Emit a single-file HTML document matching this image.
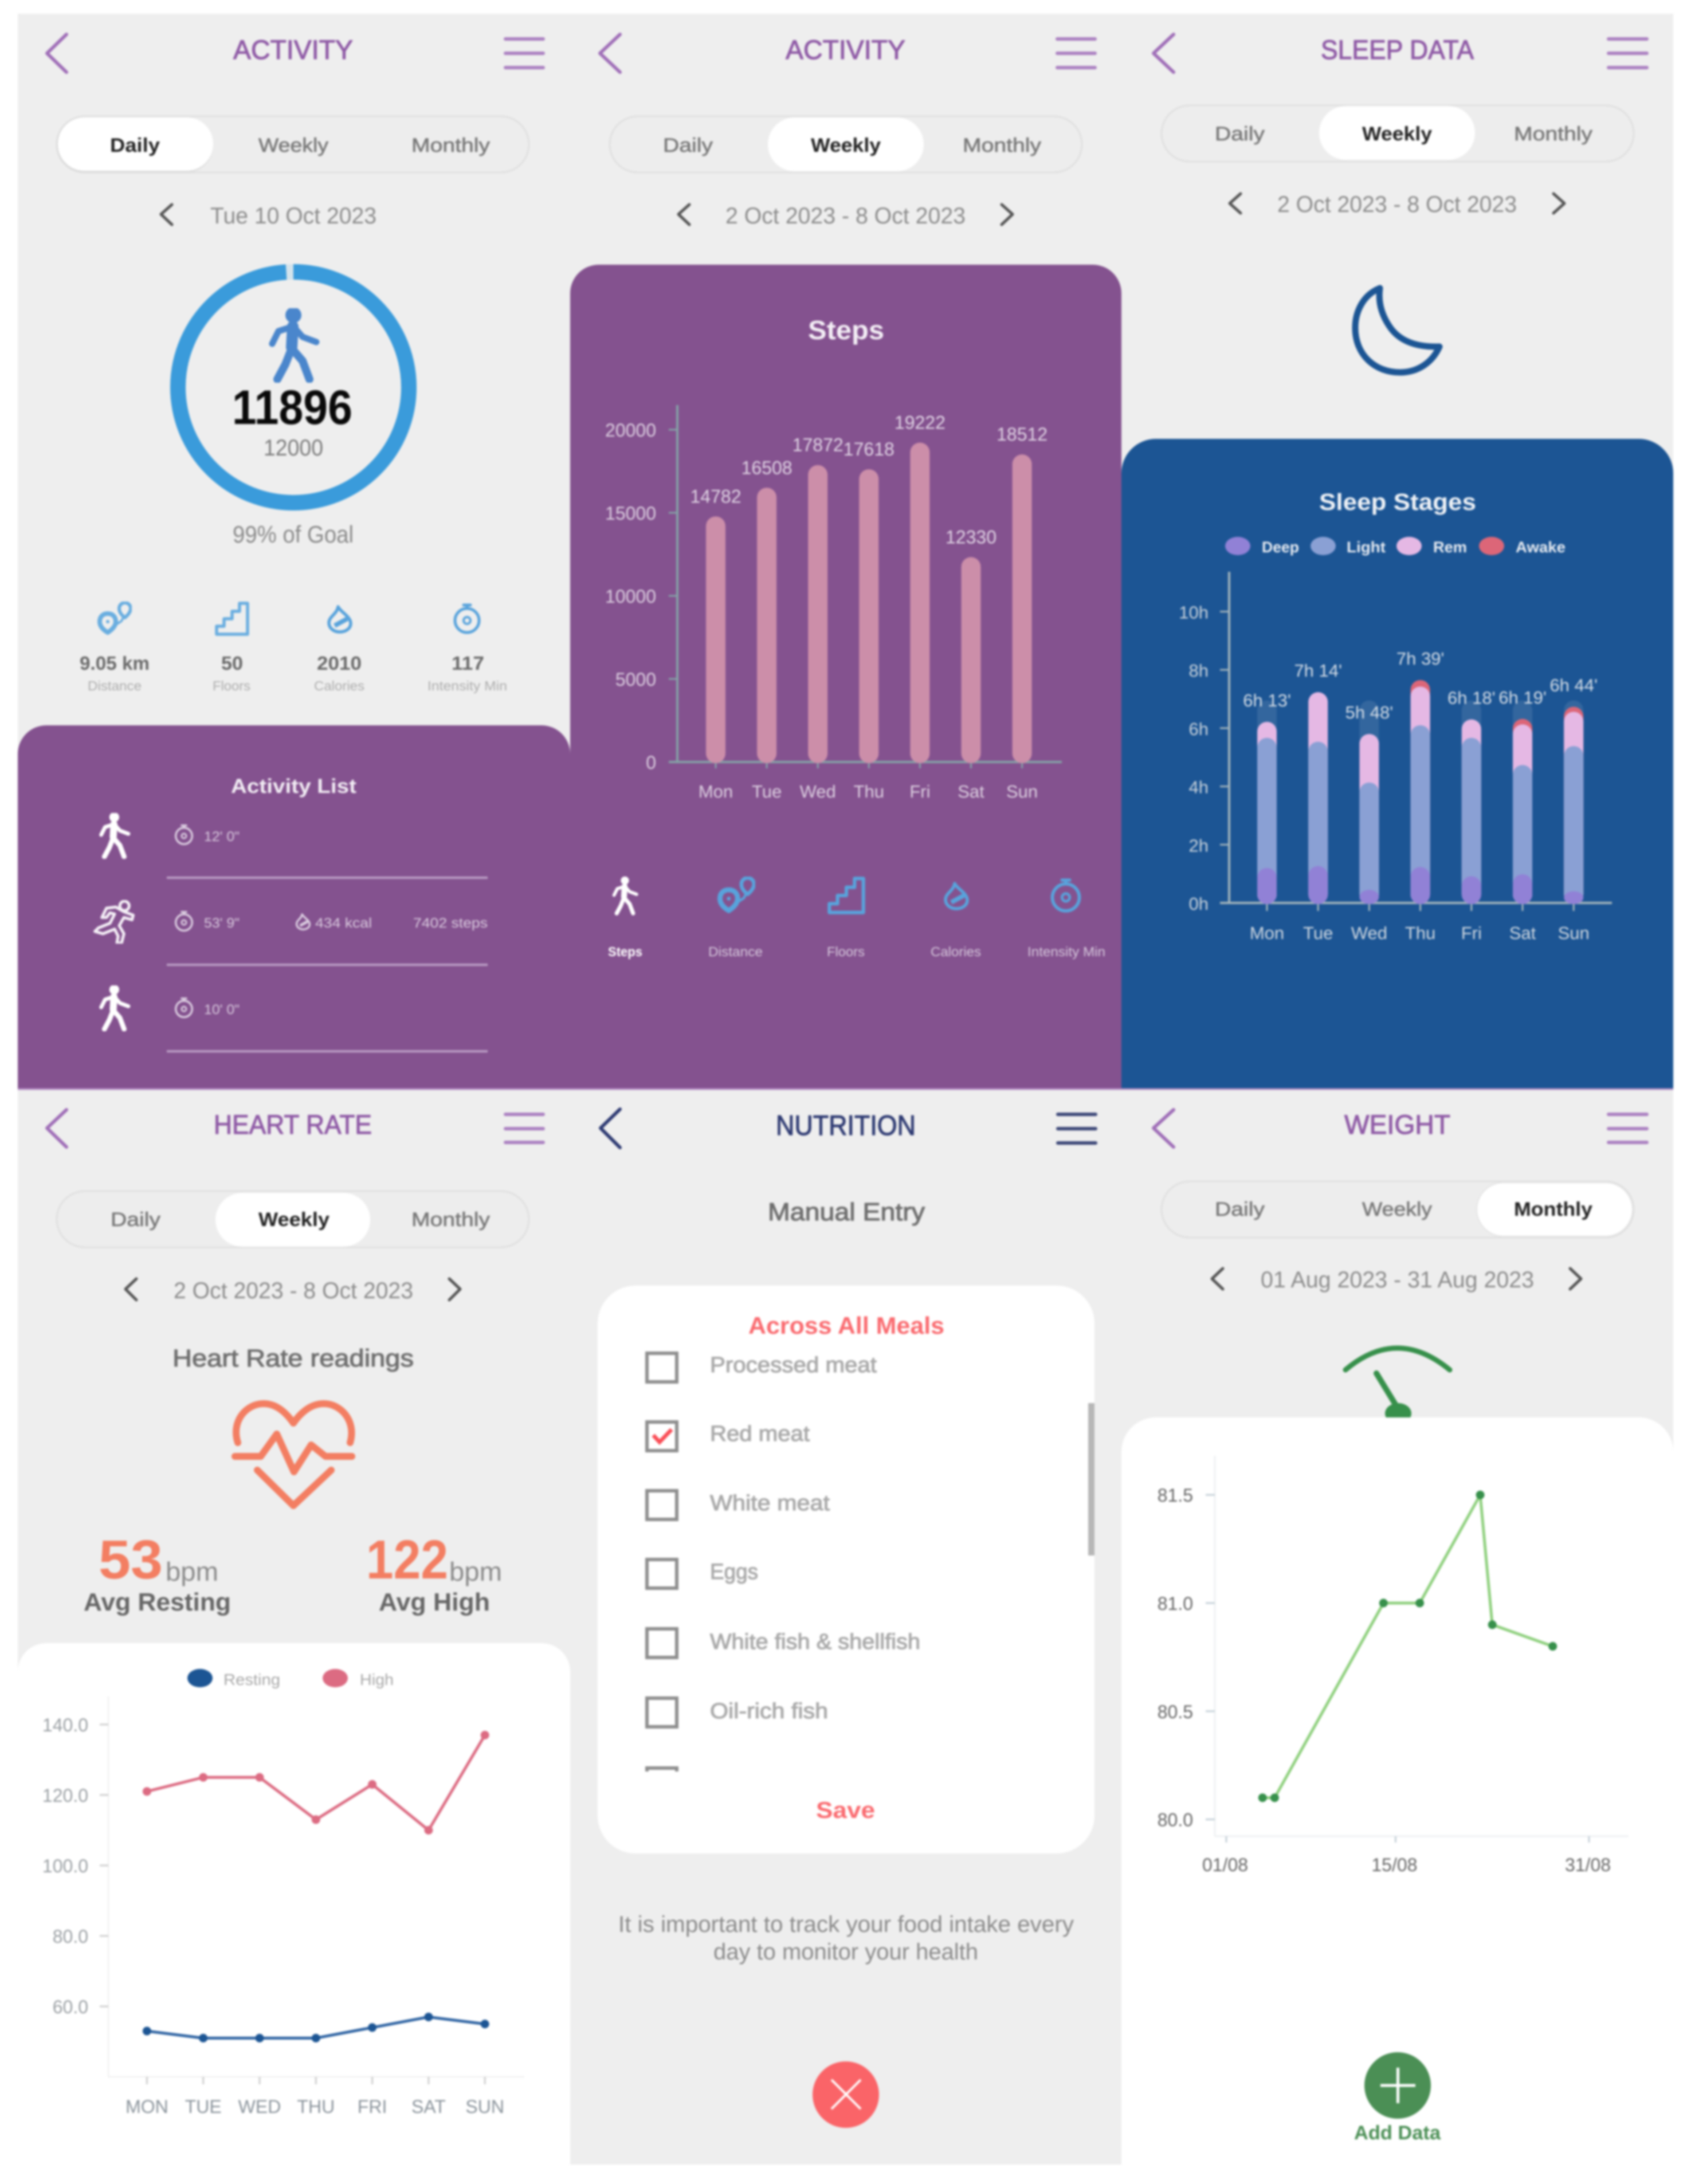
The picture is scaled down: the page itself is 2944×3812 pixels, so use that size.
<!DOCTYPE html>
<html lang="en"><head><meta charset="utf-8"><title>Health app screens</title>
<style>
html,body{margin:0;padding:0;background:#fff;width:2944px;height:3812px;overflow:hidden}
svg{display:block;filter:blur(1.9px)}
text{font-family:"Liberation Sans",sans-serif}
.m{stroke:currentColor;stroke-width:1.1}
.b{font-weight:700}
.seg-on{font-size:34px;font-weight:700;fill:#222}
.seg-off{font-size:34px;fill:#777;stroke:#777;stroke-width:.6}
.date{font-size:40px;fill:#8c8c8c}
.title{font-size:47px;fill:#8f5aa6;color:#8f5aa6}
.nav{fill:none;stroke:#a06fb8;stroke-width:6;stroke-linecap:round;stroke-linejoin:round}
.burger{fill:none;stroke:#ab80c1;stroke-width:6;stroke-linecap:round}
.chev{fill:none;stroke:#555;stroke-width:5;stroke-linecap:round;stroke-linejoin:round}
.val{font-size:33px;font-weight:700;fill:#6a6a6a}
.lab{font-size:23px;fill:#aeaeae}
.tabl{font-size:23px;fill:#d6c8dc}
.act{font-size:24px;fill:#d9cade}
.rule{stroke:#bb9ec5;stroke-width:4}
.box{fill:#fff;stroke:#8e8e8e;stroke-width:6}
.food{font-size:38px;fill:#a9a9a9;color:#a9a9a9}
.para{font-size:40px;fill:#8b8b8b}
</style></head>
<body>
<svg id="root" xmlns="http://www.w3.org/2000/svg" width="2944" height="3812" viewBox="0 0 2944 3812">
<defs>
<symbol id="walk" viewBox="0 0 90 130"><g fill="none" stroke="currentColor" stroke-width="14" stroke-linecap="round" stroke-linejoin="round"><circle cx="44" cy="12" r="7" fill="currentColor"/><path d="M43 32 L41 68" stroke-width="20"/><path d="M41 70 L30 98 L16 124"/><path d="M41 70 L60 92 L72 124"/><path d="M43 32 L18 40 L7 62" stroke-width="11"/><path d="M46 34 L60 50 L84 59" stroke-width="11"/></g></symbol>
<symbol id="run" viewBox="0 0 70 75"><g fill="none" stroke="currentColor" stroke-width="5" stroke-linecap="round" stroke-linejoin="round"><circle cx="53" cy="10" r="8"/><path d="M38 12 L22 14 L14 30 L22 30 L28 22 L36 24 L28 40 L8 48 L2 54 L16 58 L36 50 L42 62 L40 74 L48 74 L52 58 L44 44 L52 30 L66 34 L68 26 L52 20 Z"/></g></symbol>
<symbol id="dist" viewBox="0 0 60 60"><g fill="none" stroke="currentColor" stroke-linejoin="round"><path d="M18 54 C8 48 4 42 4 35 C4 26 10 21 18 21 C27 21 32 27 32 35 C32 42 27 48 18 54 Z" stroke-width="8"/><circle cx="18" cy="35" r="3" fill="currentColor" stroke="none"/><path d="M30 42 L42 34 L46 26" stroke-width="4"/><path d="M48 28 C40 22 38 17 38 12 C38 6 43 2 48 2 C53 2 58 6 58 12 C58 17 55 22 48 28 Z" stroke-width="6"/></g></symbol>
<symbol id="stairs" viewBox="0 0 60 60"><path d="M3 57 V43 H16 V30 H30 V17 H43 V3 H57 V57 Z" fill="none" stroke="currentColor" stroke-width="5.5" stroke-linejoin="round"/></symbol>
<symbol id="drop" viewBox="0 0 50 50"><g fill="none" stroke="currentColor" stroke-width="5.5" stroke-linejoin="round"><path d="M22 3 C26 12 44 20 44 32 C44 42 34 47 25 47 C14 47 6 40 6 31 C6 20 20 16 22 3 Z"/><path d="M16 36 L38 24" stroke-width="8"/></g></symbol>
<symbol id="watch" viewBox="0 0 50 54"><g fill="none" stroke="currentColor" stroke-width="5" stroke-linecap="round"><circle cx="25" cy="30" r="21"/><path d="M19 3 L31 3 M25 3 L25 9"/><circle cx="25" cy="30" r="6" stroke-width="4"/></g></symbol>
</defs>

<!-- Screen backgrounds -->
<rect x="31" y="24" width="964" height="1877" fill="#eeeeee"/>
<rect x="995" y="24" width="962" height="1877" fill="#eeeeee"/>
<rect x="1957" y="24" width="963" height="1877" fill="#eeeeee"/>
<rect x="31" y="1901" width="964" height="1877" fill="#eeeeee"/>
<rect x="995" y="1901" width="962" height="1877" fill="#eeeeee"/>
<rect x="1957" y="1901" width="963" height="1877" fill="#eeeeee"/>

<!-- SCREEN 1 -->
<polyline class="nav" points="116,60 82,93 116,126"/>
<text class="title m" x="407" y="103" textLength="209" lengthAdjust="spacingAndGlyphs">ACTIVITY</text>
<path class="burger" d="M882 68H948M882 93H948M882 118H948"/>
<rect x="99" y="203" width="824" height="98" rx="49" fill="#ededed" stroke="#e0e0e0" stroke-width="3"/>
<rect x="99" y="205" width="273" height="96" rx="47" fill="#dcdcdc"/>
<rect x="101" y="205" width="271" height="93" rx="46" fill="#fff"/>
<text class="seg-on" x="192" y="265" textLength="87" lengthAdjust="spacingAndGlyphs">Daily</text>
<text class="seg-off" x="451" y="265" textLength="122" lengthAdjust="spacingAndGlyphs">Weekly</text>
<text class="seg-off" x="718" y="265" textLength="137" lengthAdjust="spacingAndGlyphs">Monthly</text>
<polyline class="chev" points="300,357 281,374 300,392"/>
<text class="date" x="367" y="390" textLength="290" lengthAdjust="spacingAndGlyphs">Tue 10 Oct 2023</text>
<circle cx="512" cy="676" r="201.5" fill="none" stroke="#d3e3ec" stroke-width="27"/>
<circle cx="512" cy="676" r="201.5" fill="none" stroke="#3a9bdb" stroke-width="27" stroke-dasharray="1253 1266" transform="rotate(-90 512 676)"/>
<use href="#walk" x="468" y="538" width="90" height="130" style="color:#4a86cc"/>
<text class="b" x="405" y="740" font-size="84" fill="#0a0a0a" textLength="210" lengthAdjust="spacingAndGlyphs">11896</text>
<text x="460" y="795" font-size="40" fill="#7d7d7d" textLength="104" lengthAdjust="spacingAndGlyphs">12000</text>
<text x="406" y="947" font-size="42" fill="#8a8a8a" textLength="211" lengthAdjust="spacingAndGlyphs">99% of Goal</text>
<use href="#dist" x="170" y="1050" width="60" height="60" style="color:#6aaee0"/>
<use href="#stairs" x="375" y="1050" width="60" height="60" style="color:#6aaee0"/>
<use href="#drop" x="568" y="1052" width="50" height="58" style="color:#58a3dc"/>
<use href="#watch" x="790" y="1050" width="50" height="60" style="color:#58a3dc"/>
<text class="val" x="139" y="1169" textLength="122" lengthAdjust="spacingAndGlyphs">9.05 km</text>
<text class="val" x="386" y="1169" textLength="38" lengthAdjust="spacingAndGlyphs">50</text>
<text class="val" x="553" y="1169" textLength="78" lengthAdjust="spacingAndGlyphs">2010</text>
<text class="val" x="788" y="1169" textLength="57" lengthAdjust="spacingAndGlyphs">117</text>
<text class="lab" x="153" y="1205" textLength="94" lengthAdjust="spacingAndGlyphs">Distance</text>
<text class="lab" x="371" y="1205" textLength="66" lengthAdjust="spacingAndGlyphs">Floors</text>
<text class="lab" x="548" y="1205" textLength="88" lengthAdjust="spacingAndGlyphs">Calories</text>
<text class="lab" x="746" y="1205" textLength="139" lengthAdjust="spacingAndGlyphs">Intensity Min</text>

<!-- SCREEN 2 (panel first so screen 1 list overlays) -->
<path d="M995 512 a50 50 0 0 1 50 -50 H1907 a50 50 0 0 1 50 50 V1900 H995 Z" fill="#84528f"/>
<path d="M31 1316 a50 50 0 0 1 50 -50 H945 a50 50 0 0 1 50 50 V1900 H31 Z" fill="#84528f"/>
<text class="b" x="403" y="1384" font-size="35" fill="#f3eef5" textLength="219" lengthAdjust="spacingAndGlyphs">Activity List</text>
<use href="#walk" x="171" y="1419" width="58" height="80" style="color:#fff"/>
<use href="#watch" x="304" y="1438" width="34" height="38" style="color:#ddd0e2"/>
<text class="act" x="356" y="1468" textLength="62" lengthAdjust="spacingAndGlyphs">12' 0"</text>
<line class="rule" x1="291" y1="1532" x2="851" y2="1532"/>
<use href="#run" x="163" y="1571" width="72" height="76" style="color:#f5f0f7"/>
<use href="#watch" x="304" y="1589" width="34" height="38" style="color:#ddd0e2"/>
<text class="act" x="356" y="1619" textLength="62" lengthAdjust="spacingAndGlyphs">53' 9"</text>
<use href="#drop" x="514" y="1590" width="30" height="38" style="color:#ddd0e2"/>
<text class="act" x="550" y="1619" textLength="99" lengthAdjust="spacingAndGlyphs">434 kcal</text>
<text class="act" x="721" y="1619" textLength="130" lengthAdjust="spacingAndGlyphs">7402 steps</text>
<line class="rule" x1="291" y1="1684" x2="851" y2="1684"/>
<use href="#walk" x="171" y="1720" width="58" height="80" style="color:#fff"/>
<use href="#watch" x="304" y="1740" width="34" height="38" style="color:#ddd0e2"/>
<text class="act" x="356" y="1770" textLength="62" lengthAdjust="spacingAndGlyphs">10' 0"</text>
<line class="rule" x1="291" y1="1835" x2="851" y2="1835"/>

<polyline class="nav" points="1082,60 1047,93 1082,126"/>
<text class="title m" x="1371" y="103" textLength="209" lengthAdjust="spacingAndGlyphs">ACTIVITY</text>
<path class="burger" d="M1845 68H1911M1845 93H1911M1845 118H1911"/>
<rect x="1064" y="203" width="824" height="98" rx="49" fill="#ededed" stroke="#e0e0e0" stroke-width="3"/>
<rect x="1340" y="205" width="272" height="94" rx="47" fill="#fff"/>
<text class="seg-off" x="1157" y="265" textLength="87" lengthAdjust="spacingAndGlyphs">Daily</text>
<text class="seg-on" x="1415" y="265" textLength="122" lengthAdjust="spacingAndGlyphs">Weekly</text>
<text class="seg-off" x="1680" y="265" textLength="137" lengthAdjust="spacingAndGlyphs">Monthly</text>
<polyline class="chev" points="1203,357 1184,374 1203,392"/>
<polyline class="chev" points="1748,357 1767,374 1748,392"/>
<text class="date" x="1266" y="390" textLength="419" lengthAdjust="spacingAndGlyphs">2 Oct 2023 - 8 Oct 2023</text>
<text class="b" x="1410" y="592" font-size="46" fill="#f4eff6" textLength="133" lengthAdjust="spacingAndGlyphs">Steps</text>
<g id="steps-chart"></g>
<use href="#walk" x="1068" y="1530" width="46" height="68" style="color:#fff"/>
<use href="#dist" x="1252" y="1530" width="66" height="66" style="color:#58a3dc"/>
<use href="#stairs" x="1444" y="1530" width="66" height="66" style="color:#58a3dc"/>
<use href="#drop" x="1644" y="1534" width="50" height="60" style="color:#58a3dc"/>
<use href="#watch" x="1832" y="1530" width="56" height="66" style="color:#58a3dc"/>
<text class="tabl b" x="1061" y="1669" fill="#fff" style="fill:#fff" textLength="60" lengthAdjust="spacingAndGlyphs">Steps</text>
<text class="tabl" x="1236" y="1669" textLength="95" lengthAdjust="spacingAndGlyphs">Distance</text>
<text class="tabl" x="1443" y="1669" textLength="66" lengthAdjust="spacingAndGlyphs">Floors</text>
<text class="tabl" x="1624" y="1669" textLength="88" lengthAdjust="spacingAndGlyphs">Calories</text>
<text class="tabl" x="1793" y="1669" textLength="136" lengthAdjust="spacingAndGlyphs">Intensity Min</text>

<!-- SCREEN 3 -->
<polyline class="nav" points="2048,60 2013,93 2048,126"/>
<text class="title m" x="2305" y="103" textLength="267" lengthAdjust="spacingAndGlyphs">SLEEP DATA</text>
<path class="burger" d="M2807 68H2874M2807 93H2874M2807 118H2874"/>
<rect x="2027" y="184" width="824" height="98" rx="49" fill="#ededed" stroke="#e0e0e0" stroke-width="3"/>
<rect x="2302" y="185" width="272" height="94" rx="47" fill="#fff"/>
<text class="seg-off" x="2120" y="245" textLength="87" lengthAdjust="spacingAndGlyphs">Daily</text>
<text class="seg-on" x="2377" y="245" textLength="122" lengthAdjust="spacingAndGlyphs">Weekly</text>
<text class="seg-off" x="2642" y="245" textLength="137" lengthAdjust="spacingAndGlyphs">Monthly</text>
<polyline class="chev" points="2165,338 2146,355 2165,372"/>
<polyline class="chev" points="2711,338 2730,355 2711,372"/>
<text class="date" x="2229" y="370" textLength="418" lengthAdjust="spacingAndGlyphs">2 Oct 2023 - 8 Oct 2023</text>
<path d="M2408 503 C2378 515 2365 545 2365 572 C2365 620 2400 650 2443 650 C2475 650 2500 632 2512 605 C2480 606 2445 600 2425 570 C2410 548 2405 525 2408 503 Z" fill="none" stroke="#1c5594" stroke-width="11" stroke-linejoin="round"/>
<path d="M1957 826 a60 60 0 0 1 60 -60 H2860 a60 60 0 0 1 60 60 V1900 H1957 Z" fill="#1c5594"/>
<text class="b" x="2302" y="890" font-size="41" fill="#f0f3f7" textLength="274" lengthAdjust="spacingAndGlyphs">Sleep Stages</text>
<ellipse cx="2160" cy="953" rx="22" ry="16" fill="#9181d6"/>
<ellipse cx="2309" cy="953" rx="22" ry="16" fill="#8aa0d4"/>
<ellipse cx="2459" cy="953" rx="22" ry="16" fill="#e5b8e4"/>
<ellipse cx="2603" cy="953" rx="22" ry="16" fill="#dc6678"/>
<text class="b" x="2202" y="964" font-size="27" fill="#e8ecf2" textLength="65" lengthAdjust="spacingAndGlyphs">Deep</text>
<text class="b" x="2350" y="964" font-size="27" fill="#e8ecf2" textLength="68" lengthAdjust="spacingAndGlyphs">Light</text>
<text class="b" x="2501" y="964" font-size="27" fill="#e8ecf2" textLength="59" lengthAdjust="spacingAndGlyphs">Rem</text>
<text class="b" x="2645" y="964" font-size="27" fill="#e8ecf2" textLength="87" lengthAdjust="spacingAndGlyphs">Awake</text>
<g id="sleep-chart"></g>

<line x1="31" y1="1901" x2="2920" y2="1901" stroke="#b690c6" stroke-width="3"/>

<!-- SCREEN 4 -->
<polyline class="nav" points="116,1937 82,1969 116,2002"/>
<text class="title m" x="373" y="1979" textLength="276" lengthAdjust="spacingAndGlyphs">HEART RATE</text>
<path class="burger" d="M882 1945H948M882 1970H948M882 1994H948"/>
<rect x="99" y="2079" width="824" height="98" rx="49" fill="#ededed" stroke="#e0e0e0" stroke-width="3"/>
<rect x="376" y="2082" width="270" height="94" rx="47" fill="#fff"/>
<text class="seg-off" x="193" y="2140" textLength="87" lengthAdjust="spacingAndGlyphs">Daily</text>
<text class="seg-on" x="451" y="2140" textLength="124" lengthAdjust="spacingAndGlyphs">Weekly</text>
<text class="seg-off" x="718" y="2140" textLength="137" lengthAdjust="spacingAndGlyphs">Monthly</text>
<polyline class="chev" points="238,2232 219,2250 238,2269"/>
<polyline class="chev" points="784,2232 803,2250 784,2269"/>
<text class="date" x="303" y="2266" textLength="418" lengthAdjust="spacingAndGlyphs">2 Oct 2023 - 8 Oct 2023</text>
<text class="m" x="301" y="2385" font-size="43" fill="#6e6e6e" color="#6e6e6e" textLength="421" lengthAdjust="spacingAndGlyphs">Heart Rate readings</text>
<g fill="none" stroke="#f37e62" stroke-width="12" stroke-linejoin="round" stroke-linecap="round">
<path d="M415 2518 C403 2480 430 2450 460 2450 C484 2450 501 2468 512 2484 C523 2468 541 2450 565 2450 C595 2450 622 2480 611 2518"/>
<path d="M410 2542 L455 2542 L483 2503 L513 2569 L543 2522 L568 2542 L614 2542"/>
<path d="M449 2566 L512 2628 L578 2566"/>
</g>
<text class="b" x="172" y="2755" font-size="96" fill="#f37e62" textLength="112" lengthAdjust="spacingAndGlyphs">53</text>
<text x="289" y="2759" font-size="46" fill="#8a8a8a" textLength="92" lengthAdjust="spacingAndGlyphs">bpm</text>
<text class="b" x="639" y="2755" font-size="96" fill="#f37e62" textLength="143" lengthAdjust="spacingAndGlyphs">122</text>
<text x="784" y="2759" font-size="46" fill="#8a8a8a" textLength="92" lengthAdjust="spacingAndGlyphs">bpm</text>
<text class="b" x="146" y="2811" font-size="44" fill="#666" textLength="257" lengthAdjust="spacingAndGlyphs">Avg Resting</text>
<text class="b" x="661" y="2811" font-size="44" fill="#666" textLength="194" lengthAdjust="spacingAndGlyphs">Avg High</text>
<path d="M31 2918 a50 50 0 0 1 50 -50 H945 a50 50 0 0 1 50 50 V3778 H31 Z" fill="#fff"/>
<ellipse cx="349" cy="2929" rx="22" ry="16" fill="#1c5594"/>
<text x="390" y="2941" font-size="28" fill="#a8a8a8" textLength="99" lengthAdjust="spacingAndGlyphs">Resting</text>
<ellipse cx="585" cy="2929" rx="22" ry="16" fill="#dc6b82"/>
<text x="628" y="2941" font-size="28" fill="#a8a8a8" textLength="59" lengthAdjust="spacingAndGlyphs">High</text>
<g id="heart-chart"></g>

<!-- SCREEN 5 -->
<polyline points="1082,1936 1048,1969 1082,2003" fill="none" stroke="#2f3b73" stroke-width="6" stroke-linecap="round" stroke-linejoin="round"/>
<text class="m" x="1354" y="1981" font-size="49" fill="#2f3b73" color="#2f3b73" textLength="244" lengthAdjust="spacingAndGlyphs">NUTRITION</text>
<path d="M1846 1945H1912M1846 1970H1912M1846 1995H1912" fill="none" stroke="#3c4778" stroke-width="6" stroke-linecap="round"/>
<text class="m" x="1340" y="2130" font-size="44" fill="#6e6e6e" color="#6e6e6e" textLength="274" lengthAdjust="spacingAndGlyphs">Manual Entry</text>
<rect x="1043" y="2244" width="867" height="991" rx="66" fill="#fff"/>
<text class="b" x="1306" y="2328" font-size="42" fill="#fa6a6f" textLength="342" lengthAdjust="spacingAndGlyphs">Across All Meals</text>
<rect class="box" x="1129" y="2362" width="52" height="50"/>
<rect class="box" x="1129" y="2482" width="52" height="50"/>
<polyline points="1140,2505 1151,2517 1172,2495" fill="none" stroke="#fa4f58" stroke-width="7"/>
<rect class="box" x="1129" y="2602" width="52" height="50"/>
<rect class="box" x="1129" y="2722" width="52" height="50"/>
<rect class="box" x="1129" y="2843" width="52" height="50"/>
<rect class="box" x="1129" y="2964" width="52" height="50"/>
<path d="M1129 3092V3086H1181V3092" fill="none" stroke="#8e8e8e" stroke-width="6"/>
<text class="food m" x="1239" y="2395" textLength="291" lengthAdjust="spacingAndGlyphs">Processed meat</text>
<text class="food m" x="1239" y="2515" textLength="174" lengthAdjust="spacingAndGlyphs">Red meat</text>
<text class="food m" x="1239" y="2636" textLength="209" lengthAdjust="spacingAndGlyphs">White meat</text>
<text class="food m" x="1239" y="2756" textLength="84" lengthAdjust="spacingAndGlyphs">Eggs</text>
<text class="food m" x="1239" y="2878" textLength="367" lengthAdjust="spacingAndGlyphs">White fish &amp; shellfish</text>
<text class="food m" x="1239" y="2999" textLength="206" lengthAdjust="spacingAndGlyphs">Oil-rich fish</text>
<rect x="1899" y="2449" width="11" height="266" fill="#b7b7b7"/>
<text class="b" x="1424" y="3173" font-size="40" fill="#fa6a6f" textLength="103" lengthAdjust="spacingAndGlyphs">Save</text>
<text class="para" x="1079" y="3372" textLength="795" lengthAdjust="spacingAndGlyphs">It is important to track your food intake every</text>
<text class="para" x="1245" y="3420" textLength="462" lengthAdjust="spacingAndGlyphs">day to monitor your health</text>
<circle cx="1476" cy="3656" r="58" fill="#fa6468"/>
<path d="M1451 3630L1502 3681M1502 3630L1451 3681" stroke="#fff" stroke-width="4" fill="none"/>

<!-- SCREEN 6 -->
<polyline class="nav" points="2048,1937 2013,1969 2048,2002"/>
<text class="title m" x="2346" y="1979" textLength="185" lengthAdjust="spacingAndGlyphs">WEIGHT</text>
<path class="burger" d="M2807 1945H2874M2807 1970H2874M2807 1994H2874"/>
<rect x="2027" y="2062" width="824" height="98" rx="49" fill="#ededed" stroke="#e0e0e0" stroke-width="3"/>
<rect x="2577" y="2064" width="272" height="94" rx="47" fill="#fff" stroke="#e4e4e4" stroke-width="2"/>
<text class="seg-off" x="2120" y="2122" textLength="87" lengthAdjust="spacingAndGlyphs">Daily</text>
<text class="seg-off" x="2377" y="2122" textLength="122" lengthAdjust="spacingAndGlyphs">Weekly</text>
<text class="seg-on" x="2642" y="2122" textLength="137" lengthAdjust="spacingAndGlyphs">Monthly</text>
<polyline class="chev" points="2134,2214 2115,2232 2134,2250"/>
<polyline class="chev" points="2740,2214 2759,2232 2740,2250"/>
<text class="date" x="2200" y="2247" textLength="477" lengthAdjust="spacingAndGlyphs">01 Aug 2023 - 31 Aug 2023</text>
<g>
<path d="M2348 2391 Q2438 2315 2530 2391" fill="none" stroke="#37904b" stroke-width="9" stroke-linecap="round"/>
<line x1="2402" y1="2397" x2="2438" y2="2456" stroke="#37904b" stroke-width="10" stroke-linecap="round"/>
<ellipse cx="2440" cy="2467" rx="23" ry="18" fill="#37904b"/>
</g>
<path d="M1957 2534 a60 60 0 0 1 60 -60 H2860 a60 60 0 0 1 60 60 V3778 H1957 Z" fill="#fff"/>
<g id="weight-chart"></g>
<circle cx="2439" cy="3640" r="58" fill="#4b8f55"/>
<path d="M2409 3640H2470M2439.5 3609V3671" stroke="#fff" stroke-width="5" fill="none"/>
<text class="b" x="2363" y="3734" font-size="34" fill="#4b8f55" textLength="151" lengthAdjust="spacingAndGlyphs">Add Data</text>
</svg>
<script>
const stepDays = ['Mon','Tue','Wed','Thu','Fri','Sat','Sun'];
const stepValues = [14782,16508,17872,17618,19222,12330,18512];
const stepTicks = [0,5000,10000,15000,20000];

const sleepDays = ['Mon','Tue','Wed','Thu','Fri','Sat','Sun'];
const sleepDeep = [72,76,27,74,55,59,24];
const sleepLight = [268,256,221,292,285,225,299];
const sleepRem = [33,102,100,82,38,86,73];
const sleepAwake = [0,0,0,11,0,9,8];
const sleepTicks = [0,2,4,6,8,10];

const heartDays = ['MON','TUE','WED','THU','FRI','SAT','SUN'];
const heartHigh = [121,125,125,113,123,110,137];
const heartResting = [53,51,51,51,54,57,55];
const heartTicks = [60,80,100,120,140];

const weightDays = [4,5,14,17,22,23,28];
const weightValues = [80.1,80.1,81.0,81.0,81.5,80.9,80.8];
const weightTicks = [80.0,80.5,81.0,81.5];
const weightDateTicks = [1,15,31];
const weightDateLabels = ['01/08','15/08','31/08'];

const NS = 'http://www.w3.org/2000/svg';
function mk(parent, tag, attrs, txt) {
  const el = document.createElementNS(NS, tag);
  for (const k in attrs) el.setAttribute(k, attrs[k]);
  if (txt !== undefined) el.textContent = txt;
  parent.appendChild(el);
  return el;
}
function axisLine(g, x1, y1, x2, y2, color, w) {
  const el = mk(g, 'line', {x1: x1, y1: y1, x2: x2, y2: y2, stroke: color, 'stroke-width': w});
  
  
  return el;
}
function tickLine(g, x1, y1, x2, y2, color, w) {
  const el = mk(g, 'line', {x1: x1, y1: y1, x2: x2, y2: y2, stroke: color, 'stroke-width': w});
  
  
  return el;
}
function tickText(g, x, y, anchor, size, color, s) {
  const el = mk(g, 'text', {x: x, y: y, 'text-anchor': anchor, 'font-size': size, fill: color}, s);
  
  
  return el;
}
function bar(g, cx, top, bottom, w, color) {
  const el = mk(g, 'rect', {x: cx - w / 2, y: top, width: w, height: Math.max(0, bottom - top), rx: w / 2, fill: color});
  
  
  return el;
}
function valueText(g, x, y, size, color, s) {
  const el = mk(g, 'text', {x: x, y: y, 'text-anchor': 'middle', 'font-size': size, fill: color}, s);
  
  
  return el;
}
function seriesLine(g, pts, color, name) {
  const el = mk(g, 'polyline', {points: pts.map(p => p[0] + ',' + p[1]).join(' '), fill: 'none', stroke: color, 'stroke-width': 5, 'stroke-linejoin': 'round'});
  
  
}
function seriesDot(g, p, color, name) {
  const el = mk(g, 'circle', {cx: p[0], cy: p[1], r: 7.5, fill: color});
  
  
}

/* Steps */
(function () {
  const g = document.getElementById('steps-chart');
  const yS = v => 1330 - v * 0.0290;
  const xS = i => 1249 + i * 89.1;
  axisLine(g, 1182, 707, 1182, 1332, '#84a2a6', 4);
  axisLine(g, 1167, 1330, 1853, 1330, '#84a2a6', 4);
  stepTicks.forEach(t => {
    tickLine(g, 1167, yS(t), 1182, yS(t), '#84a2a6', 3);
    tickText(g, 1145, yS(t) + 12, 'end', 32, '#dccfe0', String(t));
  });
  stepDays.forEach((d, i) => {
    tickLine(g, xS(i), 1330, xS(i), 1341, '#84a2a6', 3);
    tickText(g, xS(i), 1392, 'middle', 31, '#ddd0e1', d);
  });
  stepValues.forEach((v, i) => {
    bar(g, xS(i), yS(v), 1332, 34, '#cc8ea9');
    valueText(g, xS(i), yS(v) - 24, 32, '#e0d4e4', String(v));
  });
})();

/* Sleep */
(function () {
  const g = document.getElementById('sleep-chart');
  const yS = h => 1576 - h * 50.85;
  const xS = i => 2211 + i * 89.2;
  axisLine(g, 2145, 998, 2145, 1578, '#a3b4bb', 4);
  axisLine(g, 2129, 1576, 2813, 1576, '#a3b4bb', 4);
  sleepTicks.forEach(t => {
    tickLine(g, 2129, yS(t), 2145, yS(t), '#a3b4bb', 3);
    tickText(g, 2109, yS(t) + 12, 'end', 31, '#c9d3dc', t + 'h');
  });
  sleepDays.forEach((d, i) => {
    tickLine(g, xS(i), 1576, xS(i), 1590, '#a3b4bb', 3);
    tickText(g, xS(i), 1639, 'middle', 31, '#ced7e0', d);
    const deep = sleepDeep[i], light = deep + sleepLight[i], rem = light + sleepRem[i], total = rem + sleepAwake[i];
    const track = bar(g, xS(i), yS(6.95), 1578, 34, '#ffffff');
    track.setAttribute('fill-opacity', '0.1');
    if (sleepAwake[i] > 0) bar(g, xS(i), yS(total / 60), 1578, 34, '#dc6678');
    bar(g, xS(i), yS(rem / 60) + (sleepAwake[i] > 0 ? 2 : 0), 1578, 34, '#e5b8e4');
    bar(g, xS(i), yS(light / 60), 1578, 34, '#8aa0d4');
    bar(g, xS(i), yS(deep / 60), 1578, 34, '#9181d6');
    const h = Math.floor(total / 60), m = total % 60;
    valueText(g, xS(i), yS(total / 60) - 27, 31, '#d5dde6', h + 'h ' + m + "'");
  });
})();

/* Heart rate */
(function () {
  const g = document.getElementById('heart-chart');
  const yS = v => 3502 - (v - 60) * 6.15;
  const xS = i => 256.4 + i * 98.3;
  axisLine(g, 189, 2961, 189, 3625, '#f2f2f2', 3);
  axisLine(g, 189, 3625, 915, 3625, '#f2f2f2', 3);
  heartTicks.forEach(t => {
    tickLine(g, 174, yS(t), 189, yS(t), '#cfcfcf', 3);
    tickText(g, 154, yS(t) + 12, 'end', 32, '#9ba0a4', t.toFixed(1));
  });
  heartDays.forEach((d, i) => {
    tickLine(g, xS(i), 3625, xS(i), 3638, '#cfcfcf', 3);
    tickText(g, xS(i), 3688, 'middle', 32, '#8a939b', d);
  });
  const hi = heartHigh.map((v, i) => [xS(i), yS(v)]);
  const lo = heartResting.map((v, i) => [xS(i), yS(v)]);
  seriesLine(g, hi, '#dc6b82', 'high-series-line');
  seriesLine(g, lo, '#2f64a3', 'resting-series-line');
  hi.forEach(p => seriesDot(g, p, '#dc6b82', 'high-point'));
  lo.forEach(p => seriesDot(g, p, '#1c5594', 'resting-point'));
})();

/* Weight */
(function () {
  const g = document.getElementById('weight-chart');
  const yS = v => 3175.6 - (v - 80) * 377.6;
  const xS = d => 2140 + (d - 1) * 21.1;
  axisLine(g, 2120, 2541, 2120, 3205, '#eef1f3', 3);
  axisLine(g, 2120, 3205, 2842, 3205, '#eef1f3', 3);
  weightTicks.forEach(t => {
    tickLine(g, 2104, yS(t), 2120, yS(t), '#c5d0d8', 3);
    tickText(g, 2082, yS(t) + 12, 'end', 32, '#666', t.toFixed(1));
  });
  weightDateTicks.forEach((d, i) => {
    tickLine(g, xS(d), 3205, xS(d), 3216, '#c5d0d8', 3);
    tickText(g, xS(d) - 2, 3266, 'middle', 32, '#666', weightDateLabels[i]);
  });
  const pts = weightValues.map((v, i) => [xS(weightDays[i]), yS(v)]);
  seriesLine(g, pts, '#8fd07e', 'weight-series-line');
  pts.forEach(p => seriesDot(g, p, '#37904b', 'weight-point'));
})();
</script>
</body></html>
